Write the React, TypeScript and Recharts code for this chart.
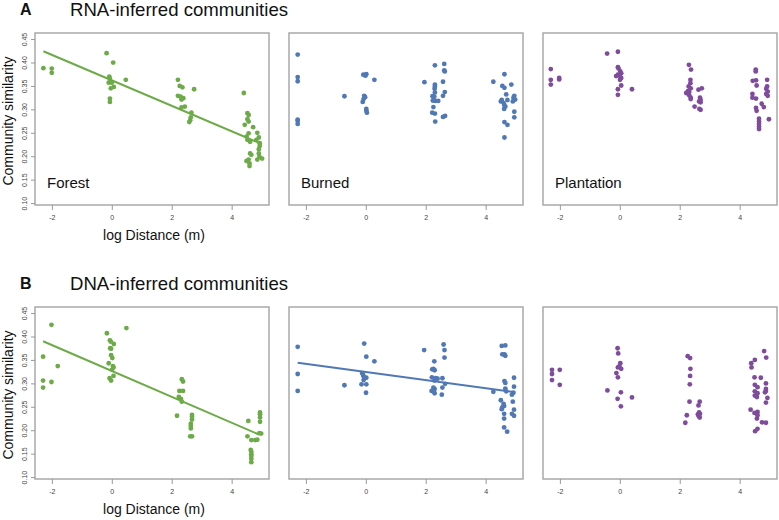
import React from 'react';
import { ScatterChart, Scatter, XAxis, YAxis, ReferenceArea, ReferenceLine } from 'recharts';

type P = [number, number];

const xTicks = [-2, 0, 2, 4];
const yTicks = [0.1, 0.15, 0.2, 0.25, 0.3, 0.35, 0.4, 0.45];
const X_DOMAIN: [number, number] = [-2.58, 5.23];
const Y_DOMAIN: [number, number] = [0.097, 0.464];

const rowTitles = ['RNA-inferred communities', 'DNA-inferred communities'];
const rowLetters = ['A', 'B'];
const habitats = ['Forest', 'Burned', 'Plantation'];

const rnaForest: P[] = [
  [-2.3, 0.389], [-2.02, 0.388], [-2.02, 0.379],
  [-0.19, 0.421], [0.03, 0.401], [-0.1, 0.371], [-0.08, 0.366], [-0.12, 0.358], [-0.02, 0.358], [-0.05, 0.346], [0.05, 0.349], [-0.08, 0.324], [-0.08, 0.317], [0.45, 0.364],
  [2.19, 0.364], [2.25, 0.351], [2.34, 0.348], [2.19, 0.33], [2.28, 0.328], [2.37, 0.325], [2.31, 0.322], [2.42, 0.307], [2.31, 0.305], [2.73, 0.344], [2.64, 0.294], [2.62, 0.284], [2.6, 0.278], [2.57, 0.274],
  [4.39, 0.336], [4.51, 0.293], [4.55, 0.289], [4.51, 0.28], [4.55, 0.275], [4.42, 0.268], [4.55, 0.25], [4.48, 0.243], [4.51, 0.236], [4.6, 0.232],
  [4.7, 0.263], [4.84, 0.251], [4.89, 0.241], [4.81, 0.236], [4.92, 0.229], [4.92, 0.223], [4.89, 0.216], [4.89, 0.207], [4.91, 0.2], [4.84, 0.194], [5.0, 0.196],
  [4.6, 0.207], [4.64, 0.204], [4.55, 0.194], [4.48, 0.191], [4.58, 0.186], [4.58, 0.18],
];
const rnaForestFit: P[] = [[-2.3, 0.425], [4.99, 0.227]];

const rnaBurned: P[] = [
  [-2.29, 0.418], [-2.29, 0.37], [-2.29, 0.361], [-2.29, 0.279], [-2.29, 0.277], [-2.29, 0.27],
  [-0.73, 0.329], [-0.1, 0.375], [0.0, 0.376], [-0.03, 0.373], [0.27, 0.364], [-0.07, 0.33], [-0.04, 0.327], [-0.09, 0.323], [-0.12, 0.317], [0.0, 0.302], [0.0, 0.298], [0.02, 0.294],
  [1.94, 0.359], [2.29, 0.395], [2.6, 0.398], [2.6, 0.384], [2.62, 0.382], [2.56, 0.36], [2.29, 0.354], [2.29, 0.35], [2.28, 0.345], [2.29, 0.337], [2.62, 0.338], [2.21, 0.329], [2.27, 0.328], [2.56, 0.33], [2.22, 0.32], [2.3, 0.319], [2.4, 0.319], [2.24, 0.306], [2.2, 0.294], [2.29, 0.292], [2.3, 0.275], [2.56, 0.285], [2.63, 0.287],
  [4.24, 0.36], [4.61, 0.376], [4.84, 0.354], [4.54, 0.351], [4.61, 0.347], [4.67, 0.333], [4.52, 0.321], [4.49, 0.318], [4.58, 0.315], [4.61, 0.31], [4.64, 0.307], [4.6, 0.302], [4.71, 0.321],
  [4.94, 0.33], [4.91, 0.326], [4.97, 0.322], [4.89, 0.318], [4.94, 0.296], [4.94, 0.284], [4.61, 0.274], [4.71, 0.268], [4.61, 0.241],
];

const rnaPlantation: P[] = [
  [-2.32, 0.387], [-2.32, 0.364], [-2.32, 0.354], [-2.04, 0.368], [-2.04, 0.365],
  [-0.44, 0.42], [-0.08, 0.424], [-0.08, 0.391], [-0.06, 0.388], [0.0, 0.382], [0.03, 0.378], [-0.08, 0.375], [-0.03, 0.373], [-0.14, 0.372], [0.03, 0.368], [-0.01, 0.364], [0.03, 0.352], [-0.08, 0.344], [0.39, 0.344], [-0.08, 0.332],
  [2.29, 0.396], [2.36, 0.386], [2.34, 0.364], [2.34, 0.357], [2.28, 0.35], [2.35, 0.346], [2.26, 0.34], [2.2, 0.336], [2.3, 0.338], [2.3, 0.331], [2.35, 0.326], [2.35, 0.323], [2.48, 0.307], [2.61, 0.343], [2.72, 0.346], [2.66, 0.326], [2.68, 0.321], [2.63, 0.318], [2.68, 0.316], [2.64, 0.302], [2.68, 0.3],
  [4.52, 0.386], [4.52, 0.382], [4.42, 0.362], [4.53, 0.363], [4.55, 0.352], [4.9, 0.364], [4.9, 0.35], [4.87, 0.345], [4.92, 0.339], [4.87, 0.334], [4.92, 0.33], [4.41, 0.334], [4.41, 0.326], [4.53, 0.324], [4.72, 0.313], [4.79, 0.306], [4.53, 0.304], [4.55, 0.298], [4.63, 0.281], [4.63, 0.275], [4.63, 0.27], [4.63, 0.264], [4.63, 0.259], [4.96, 0.28],
];

const dnaForest: P[] = [
  [-2.31, 0.358], [-2.31, 0.307], [-2.31, 0.292], [-2.03, 0.426], [-2.03, 0.304], [-1.82, 0.338],
  [-0.18, 0.408], [0.47, 0.419], [-0.08, 0.393], [-0.05, 0.39], [0.05, 0.385], [-0.07, 0.376], [-0.04, 0.375], [-0.04, 0.361], [0.0, 0.355], [-0.12, 0.344], [0.02, 0.338], [0.04, 0.335], [-0.01, 0.33], [0.04, 0.317], [-0.09, 0.312], [-0.04, 0.307],
  [2.32, 0.31], [2.36, 0.305], [2.24, 0.285], [2.36, 0.285], [2.22, 0.272], [2.29, 0.268], [2.32, 0.262], [2.16, 0.232], [2.66, 0.234], [2.66, 0.23], [2.66, 0.224], [2.62, 0.215], [2.62, 0.21], [2.62, 0.205], [2.6, 0.188], [2.66, 0.188],
  [4.54, 0.221], [4.51, 0.188], [4.64, 0.18], [4.77, 0.18], [4.84, 0.181], [4.62, 0.159], [4.64, 0.155], [4.64, 0.15], [4.64, 0.146], [4.64, 0.14], [4.64, 0.133], [4.91, 0.195], [4.97, 0.194], [4.93, 0.239], [4.93, 0.235], [4.93, 0.228], [4.93, 0.219],
];
const dnaForestFit: P[] = [[-2.31, 0.391], [4.89, 0.192]];

const dnaBurned: P[] = [
  [-2.29, 0.379], [-2.29, 0.321], [-2.29, 0.285],
  [-0.73, 0.297], [-0.07, 0.386], [0.0, 0.358], [0.27, 0.348], [-0.14, 0.323], [-0.11, 0.319], [-0.09, 0.316], [-0.06, 0.313], [0.0, 0.313], [-0.09, 0.308], [-0.16, 0.299], [0.0, 0.299], [-0.01, 0.281],
  [1.93, 0.372], [2.58, 0.384], [2.61, 0.372], [2.61, 0.356], [2.27, 0.348], [2.2, 0.331], [2.24, 0.332], [2.28, 0.329], [2.19, 0.314], [2.32, 0.312], [2.38, 0.311], [2.54, 0.312], [2.27, 0.307], [2.63, 0.3], [2.54, 0.292], [2.24, 0.292], [2.28, 0.289], [2.18, 0.285], [2.28, 0.28], [2.52, 0.277],
  [4.24, 0.283], [4.52, 0.381], [4.64, 0.382], [4.54, 0.363], [4.61, 0.363], [4.64, 0.36], [4.61, 0.306], [4.64, 0.302], [4.64, 0.29], [4.67, 0.284], [4.93, 0.313], [4.93, 0.294], [4.91, 0.281], [4.86, 0.277], [4.89, 0.262], [4.49, 0.265], [4.58, 0.257], [4.6, 0.253], [4.54, 0.25], [4.52, 0.246], [4.6, 0.236], [4.6, 0.226], [4.93, 0.245], [4.86, 0.236], [4.93, 0.232], [4.6, 0.207], [4.7, 0.198],
];
const dnaBurnedFit: P[] = [[-2.29, 0.345], [4.97, 0.282]];

const dnaPlantation: P[] = [
  [-2.28, 0.33], [-2.28, 0.321], [-2.28, 0.308], [-2.02, 0.33], [-2.02, 0.298],
  [-0.09, 0.376], [-0.07, 0.365], [0.0, 0.344], [-0.08, 0.335], [0.03, 0.332], [-0.03, 0.337], [-0.13, 0.323], [-0.08, 0.314], [-0.43, 0.286], [0.02, 0.282], [0.39, 0.271], [-0.09, 0.268], [0.02, 0.252],
  [2.25, 0.359], [2.33, 0.355], [2.34, 0.332], [2.33, 0.317], [2.32, 0.299], [2.31, 0.262], [2.65, 0.262], [2.61, 0.254], [2.22, 0.233], [2.17, 0.217], [2.63, 0.239], [2.59, 0.235], [2.66, 0.236], [2.62, 0.231], [2.65, 0.228],
  [4.37, 0.344], [4.38, 0.335], [4.49, 0.351], [4.8, 0.37], [4.87, 0.356], [4.48, 0.314], [4.69, 0.313], [4.49, 0.298], [4.58, 0.293], [4.49, 0.284], [4.58, 0.28], [4.49, 0.275], [4.56, 0.272], [4.86, 0.301], [4.86, 0.289], [4.86, 0.285], [4.83, 0.282], [4.91, 0.27], [4.86, 0.26], [4.35, 0.245], [4.48, 0.238], [4.58, 0.24], [4.58, 0.233], [4.56, 0.226], [4.73, 0.218], [4.86, 0.217], [4.58, 0.204], [4.5, 0.199],
];

const COLORS = ['#6cab48', '#5078b5', '#7f4b9d'];
const FONT = '"Liberation Sans", Arial, Helvetica, sans-serif';
const BOX_LEFTS = [35, 289, 543];
const BOX_TOPS = [33, 307];
const BOX_W = 234;
const BOX_H = 172;

const panels = [
  { row: 0, col: 0, data: rnaForest, fit: rnaForestFit, label: habitats[0] },
  { row: 0, col: 1, data: rnaBurned, fit: null, label: habitats[1] },
  { row: 0, col: 2, data: rnaPlantation, fit: null, label: habitats[2] },
  { row: 1, col: 0, data: dnaForest, fit: dnaForestFit, label: null },
  { row: 1, col: 1, data: dnaBurned, fit: dnaBurnedFit, label: null },
  { row: 1, col: 2, data: dnaPlantation, fit: null, label: null },
];

const YTick = (props: any) => {
  const { x, y, payload } = props;
  return (
    <text x={x} y={y} transform={`rotate(-90 ${x} ${y})`} textAnchor="middle" fontSize={7} fill="#444" fontFamily={FONT}>
      {Number(payload.value).toFixed(2)}
    </text>
  );
};

const XTick = (props: any) => {
  const { x, y, payload } = props;
  return (
    <text x={x} y={y + 8} textAnchor="middle" fontSize={7} fill="#444" fontFamily={FONT}>
      {String(payload.value)}
    </text>
  );
};

const Panel = ({ p }: { p: any }) => {
  const color = COLORS[p.col];
  const left = BOX_LEFTS[p.col] - 35;
  const top = BOX_TOPS[p.row] - 5;
  const pts = p.data.map((d: P) => ({ x: d[0], y: d[1] }));
  const showY = p.col === 0;
  return (
    <div style={{ position: 'absolute', left, top }}>
      <ScatterChart width={35 + BOX_W + 2} height={5 + BOX_H + 35} margin={{ top: 5, right: 2, bottom: 5, left: 5 }}>
        <XAxis
          type="number"
          dataKey="x"
          domain={X_DOMAIN}
          allowDataOverflow
          ticks={xTicks}
          height={30}
          axisLine={false}
          tickLine={{ stroke: '#999' }}
          tickSize={5}
          tickMargin={2}
          tick={<XTick />}
          interval={0}
        />
        <YAxis
          type="number"
          dataKey="y"
          domain={Y_DOMAIN}
          allowDataOverflow
          ticks={yTicks}
          width={30}
          axisLine={false}
          tickLine={showY ? { stroke: '#999' } : false}
          tickSize={4}
          tickMargin={4}
          tick={showY ? <YTick /> : false}
          interval={0}
        />
        <ReferenceArea
          x1={X_DOMAIN[0]}
          x2={X_DOMAIN[1]}
          y1={Y_DOMAIN[0]}
          y2={Y_DOMAIN[1]}
          fill="none"
          fillOpacity={0}
          stroke="#a9a9a9"
          strokeWidth={1.5}
          ifOverflow="visible"
        />
        <Scatter
          data={pts}
          isAnimationActive={false}
          shape={(s: any) => <circle cx={s.cx} cy={s.cy} r={2.4} fill={color} />}
        />
        {p.fit && (
          <ReferenceLine
            segment={[{ x: p.fit[0][0], y: p.fit[0][1] }, { x: p.fit[1][0], y: p.fit[1][1] }]}
            stroke={color}
            strokeWidth={2}
            ifOverflow="visible"
          />
        )}
      </ScatterChart>
    </div>
  );
};

export default function App() {
  return (
    <div style={{ position: 'fixed', left: 0, top: 0, width: 779, height: 520, background: '#fff', overflow: 'hidden' }}>
      {panels.map((p, i) => (
        <Panel key={i} p={p} />
      ))}
      <svg width={779} height={520} style={{ position: 'absolute', left: 0, top: 0, pointerEvents: 'none' }} fontFamily={FONT}>
        {[0, 1].map((r) => {
          const top = BOX_TOPS[r];
          const bottom = top + BOX_H;
          return (
            <g key={r}>
              <text x={20} y={top - 18} fontSize={16} fontWeight="bold" fill="#111">{rowLetters[r]}</text>
              <text x={70} y={top - 17} fontSize={18.6} fill="#111">{rowTitles[r]}</text>
              <text x={13} y={top + BOX_H / 2 + 2} transform={`rotate(-90 13 ${top + BOX_H / 2 + 2})`} textAnchor="middle" fontSize={14} fill="#111">
                Community similarity
              </text>
              <text x={BOX_LEFTS[0] + BOX_W / 2 + 2} y={bottom + 35} textAnchor="middle" fontSize={14} fill="#111">
                log Distance (m)
              </text>
            </g>
          );
        })}
        {panels.filter((p) => p.label).map((p, i) => (
          <text key={i} x={BOX_LEFTS[p.col] + 12} y={BOX_TOPS[p.row] + BOX_H - 17} fontSize={15} fill="#111">
            {p.label}
          </text>
        ))}
      </svg>
    </div>
  );
}
